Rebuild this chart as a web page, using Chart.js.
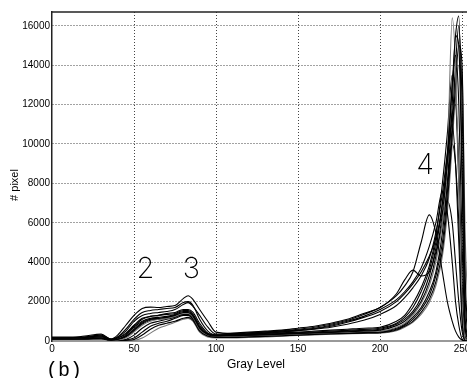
<!DOCTYPE html>
<html>
<head>
<meta charset="utf-8">
<script src="https://cdn.jsdelivr.net/npm/chart.js@4"></script>
<style>
  html, body { margin: 0; padding: 0; background: #fff; overflow: hidden; }
  #wrap { width: 467px; height: 378px; position: relative; }
</style>
</head>
<body>
<div id="wrap"><canvas id="histChart"></canvas></div>
<script>
const grayLevels = [0, 10, 20, 30, 36, 40, 45, 50, 55, 60, 65, 70, 75, 80, 83, 86, 90, 95, 100,
  110, 120, 130, 140, 150, 160, 170, 180, 190, 200, 210, 215, 220, 225, 230, 234, 238, 241, 244, 246, 248, 250, 252, 255];

// Tick positions on both axes
const xTickValues = [0, 50, 100, 150, 200, 250];
const yTickValues = [0, 2000, 4000, 6000, 8000, 10000, 12000, 14000, 16000];

// Pixel counts per gray level, one array per image
const histA = [150,150,200,300,100,300,800,1300,1650,1720,1700,1750,1800,2150,2300,2100,1600,1000,450,
  380,420,470,520,600,700,850,1050,1350,1700,2300,2800,3500,5000,6400,5500,3500,2000,1000,500,200,50,0,0];
const histB = [150,160,180,250,80,200,600,1100,1450,1550,1600,1650,1700,1950,2000,1800,1100,500,300,
  350,400,450,500,560,650,800,1000,1250,1600,2100,2500,3000,3700,4800,6000,7600,6500,4000,2000,800,100,0,0];
const histC = [200,200,200,250,50,150,400,800,1150,1250,1300,1350,1400,1550,1550,1350,800,380,300,
  300,350,400,450,520,600,700,850,1050,1350,1800,2200,2700,3300,4200,5500,7500,9500,11000,9000,5000,1000,0,0];
const histD = [150,150,150,200,50,100,300,700,1000,1150,1200,1250,1350,1500,1500,1300,700,350,280,
  300,300,330,360,400,430,460,500,540,600,850,1100,1500,2200,3300,4700,7000,9500,13000,14500,12000,5000,500,0];
const histE = [100,100,120,150,40,80,250,600,950,1100,1150,1200,1300,1450,1450,1250,650,320,250,
  280,290,310,340,380,410,440,470,510,550,780,1000,1400,2000,3000,4300,6500,9000,13000,15500,16500,9000,1000,0];
const histF = [150,150,150,200,40,50,150,450,800,1000,1100,1150,1250,1400,1400,1200,600,300,250,
  250,270,290,320,360,390,420,450,480,500,700,900,1300,1900,2800,4000,6000,9000,16400,14000,8000,2000,100,0];
const histG = [100,100,100,150,30,30,80,300,650,900,1000,1100,1200,1350,1350,1150,600,300,200,
  220,250,270,300,340,370,400,420,450,480,650,850,1200,1700,2500,3500,5500,8000,12000,15500,15000,8000,600,0];
const histH = [120,120,120,150,40,30,50,150,450,750,900,1000,1150,1300,1300,1100,550,250,200,
  200,230,250,280,320,350,380,400,430,450,600,800,1100,1600,2300,3300,5000,7500,11000,14000,16000,12000,2000,0];
const histI = [100,100,100,100,30,20,30,80,300,600,800,900,1000,1150,1200,1050,500,250,180,
  180,200,230,260,300,330,360,380,400,420,560,750,1000,1450,2100,3000,4600,7000,10500,13000,15000,14000,3000,0];
const histJ = [80,80,80,100,20,10,20,30,150,400,650,800,950,1100,1150,1000,450,200,150,
  150,180,200,240,280,310,340,360,380,400,520,700,950,1350,1950,2800,4300,6500,10000,12500,14000,13500,5000,0];
const histK = [150,150,250,350,100,200,500,1000,1300,1400,1450,1500,1600,1850,1950,1750,1300,700,350,
  400,450,500,550,650,750,900,1100,1400,1700,2400,3100,3600,3300,3500,4500,6000,8000,10000,9000,6000,1500,0,0];
const histL = [150,150,150,200,60,150,350,750,1100,1250,1300,1400,1450,1600,1600,1450,900,400,300,
  320,370,420,470,540,620,750,950,1200,1500,2000,2400,2900,3500,4300,5200,6500,7100,6000,4000,2000,500,0,0];
const histM = [120,120,130,180,50,60,200,500,850,1050,1100,1150,1250,1350,1350,1200,650,330,260,
  300,320,350,380,420,460,500,540,590,650,900,1200,1700,2500,3600,5000,7000,9000,11500,12000,9000,3000,200,0];
const histN = [130,130,140,170,50,70,220,550,900,1100,1150,1200,1300,1400,1400,1250,700,350,270,
  320,350,380,410,450,500,550,600,650,700,1000,1300,1900,2700,3800,5300,8000,10500,13500,12500,8000,2000,100,0];

const histograms = [histA, histB, histC, histD, histE, histF, histG, histH, histI, histJ, histK, histL, histM, histN];
const lineColors = ['#000', '#000', '#000', '#000', '#000', '#777', '#000', '#000', '#000', '#777', '#000', '#000', '#000', '#000'];

// Peak labels placed in data coordinates
const peakLabels = [
  { text: '2', gray: 57, count: 3200 },
  { text: '3', gray: 85, count: 3200 },
  { text: '4', gray: 227.5, count: 8500 }
];

const datasets = histograms.map((h, i) => ({
  data: h.map((v, j) => ({ x: grayLevels[j], y: v })),
  borderColor: lineColors[i],
  borderWidth: 1.1,
  pointRadius: 0,
  fill: false,
  cubicInterpolationMode: 'monotone'
}));

// Draw the frame line on top, peak numbers and axis titles
const extrasPlugin = {
  id: 'extras',
  afterDraw(chart) {
    const ctx = chart.ctx;
    const area = chart.chartArea;
    const xs = chart.scales.x, ys = chart.scales.y;
    ctx.save();
    ctx.strokeStyle = '#222';
    ctx.lineWidth = 1.5;
    ctx.beginPath();
    ctx.moveTo(area.left, area.top);
    ctx.lineTo(area.right, area.top);
    ctx.stroke();

    ctx.fillStyle = '#000';
    ctx.font = '200 29px Inter, "Liberation Sans", sans-serif';
    ctx.textAlign = 'center';
    ctx.textBaseline = 'alphabetic';
    peakLabels.forEach(p => {
      ctx.fillText(p.text, xs.getPixelForValue(p.gray), ys.getPixelForValue(p.count));
    });

    ctx.font = '20px "Liberation Mono", monospace';
    ctx.textAlign = 'left';
    ctx.fillText('(b)', 46, 376);

    ctx.font = '12px "Liberation Sans", Arial, sans-serif';
    ctx.textAlign = 'center';
    ctx.textBaseline = 'middle';
    ctx.fillText('Gray Level', 256, 365);

    ctx.translate(15, 185);
    ctx.rotate(-Math.PI / 2);
    ctx.font = '11px "Liberation Sans", Arial, sans-serif';
    ctx.fillText('# pixel', 0, 0);
    ctx.restore();
  }
};

const tickFont = { family: '"Liberation Sans", Arial, sans-serif', size: 10 };

const gridOpts = {
  color: c => (c.tick && c.tick.value === 0) ? 'rgba(0,0,0,0)' : '#444',
  drawTicks: false
};

new Chart(document.getElementById('histChart'), {
  type: 'line',
  data: { datasets },
  options: {
    responsive: true,
    maintainAspectRatio: false,
    animation: false,
    devicePixelRatio: 1,
    layout: { padding: { top: 12, right: 0, left: 0, bottom: 0 } },
    plugins: { legend: { display: false }, tooltip: { enabled: false } },
    scales: {
      x: {
        type: 'linear',
        min: 0,
        max: 253,
        afterBuildTicks: s => { s.ticks = xTickValues.map(v => ({ value: v })); },
        afterFit: s => { s.height = 37; s.paddingLeft = 0; s.paddingRight = 0; },
        ticks: { color: '#000', font: tickFont, padding: 2, maxRotation: 0, autoSkip: false, callback: v => String(v) },
        grid: gridOpts,
        border: { display: true, color: '#999', width: 2, dash: [1, 2] }
      },
      y: {
        type: 'linear',
        min: 0,
        max: 16700,
        afterBuildTicks: s => { s.ticks = yTickValues.map(v => ({ value: v })); },
        afterFit: s => { s.width = 52; },
        ticks: { color: '#000', font: tickFont, padding: 2, autoSkip: false, callback: v => String(v) },
        grid: gridOpts,
        border: { display: true, color: '#222', width: 1.5, dash: [1, 2] }
      }
    }
  },
  plugins: [extrasPlugin]
});
</script>
</body>
</html>
